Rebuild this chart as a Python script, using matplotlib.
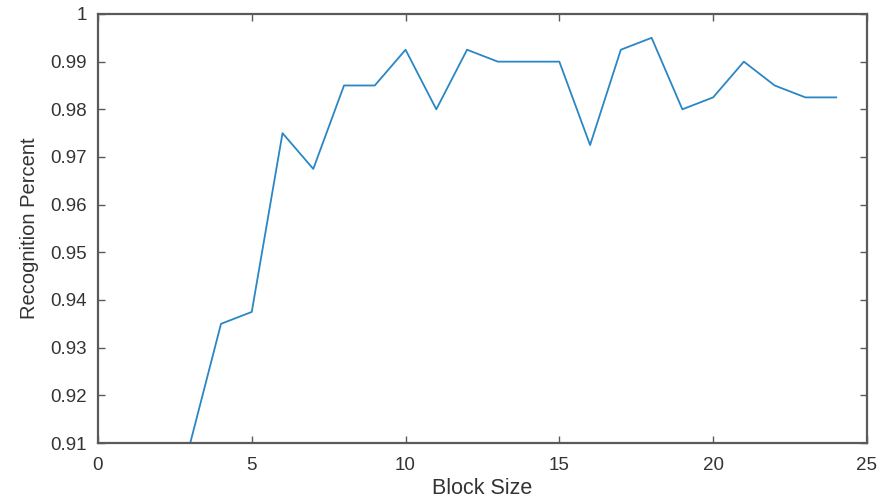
import matplotlib
matplotlib.use("Agg")
from matplotlib import pyplot as plt

block_size = [2, 3, 4, 5, 6, 7, 8, 9, 10, 11, 12, 13, 14, 15, 16, 17, 18, 19, 20, 21, 22, 23, 24]
recognition = [0.91, 0.91, 0.935, 0.9375, 0.975, 0.9675, 0.985, 0.985, 0.9925, 0.98, 0.9925,
               0.99, 0.99, 0.99, 0.9725, 0.9925, 0.995, 0.98, 0.9825, 0.99, 0.985, 0.9825, 0.9825]

x_ticks = [0, 5, 10, 15, 20, 25]
y_ticks = [0.91, 0.92, 0.93, 0.94, 0.95, 0.96, 0.97, 0.98, 0.99, 1.0]
y_tick_labels = ["0.91", "0.92", "0.93", "0.94", "0.95", "0.96", "0.97", "0.98", "0.99", "1"]

plt.rcParams["font.family"] = ["Liberation Sans", "DejaVu Sans"]
axis_color = "#5a5a5a"
text_color = "#333333"

fig = plt.figure(figsize=(8.81, 4.99), dpi=100)
ax = fig.add_axes([0.1112, 0.1122, 0.8728, 0.8598])

ax.plot(block_size, recognition, color="#2a86c4", linewidth=1.3, clip_on=True)

ax.set_xlim(0, 25)
ax.set_ylim(0.91, 1.0)
ax.set_xticks(x_ticks)
ax.set_yticks(y_ticks)
ax.set_yticklabels(y_tick_labels)

ax.tick_params(direction="in", length=5, width=1.0, color=axis_color,
               labelcolor=text_color, labelsize=13.5, top=True, right=True,
               labeltop=False, labelright=False)
ax.tick_params(axis="x", pad=10)
ax.tick_params(axis="y", pad=8)
for spine in ax.spines.values():
    spine.set_color(axis_color)
    spine.set_linewidth(1.6)

ax.set_xlabel("Block Size", fontsize=15.5, color=text_color, labelpad=3)
ax.set_ylabel("Recognition Percent", fontsize=14.5, color=text_color, labelpad=8)

fig.savefig("out.png", dpi=100)
